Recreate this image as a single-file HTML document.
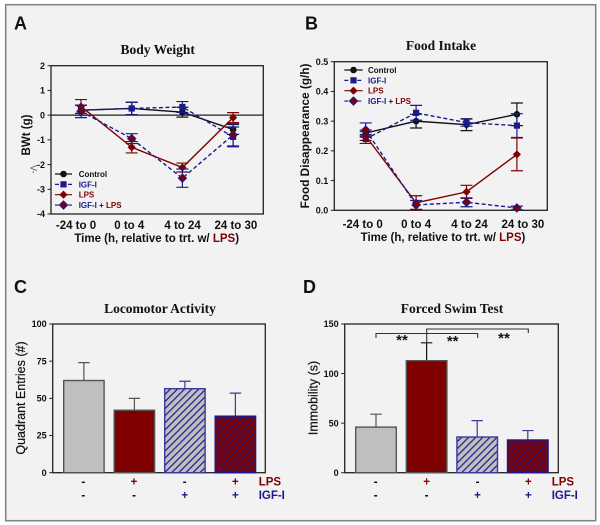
<!DOCTYPE html>
<html>
<head>
<meta charset="utf-8">
<style>
html,body{margin:0;padding:0;background:#fff;width:600px;height:525px;overflow:hidden}
svg{display:block}
text{font-family:"Liberation Sans",sans-serif}
.title{font-family:"Liberation Serif",serif;font-weight:bold;font-size:13.5px;text-anchor:middle;fill:#111}
.letter{font-weight:bold;font-size:18px;fill:#111}
.xlab{font-weight:bold;font-size:11.5px;text-anchor:middle;fill:#111}
.ylab{font-size:12.5px;text-anchor:middle;fill:#111;stroke:#111;stroke-width:.2}
.leg{font-weight:bold;font-size:8px;fill:#111}
.m{fill:#7f0000}.b{fill:#1a1a8c}
.star{font-weight:bold;font-size:15px;text-anchor:middle;fill:#111}
</style>
</head>
<body>
<svg id="fig" width="600" height="525" viewBox="0 0 600 525" xmlns="http://www.w3.org/2000/svg">
<defs>
<pattern id="hatchGray" width="5" height="5" patternUnits="userSpaceOnUse" patternTransform="rotate(45)">
<rect width="5" height="5" fill="#bfbfbf"/><rect width="1.2" height="5" fill="#1a1a8c"/>
</pattern>
<pattern id="hatchMaroon" width="5" height="5" patternUnits="userSpaceOnUse" patternTransform="rotate(45)">
<rect width="5" height="5" fill="#7f0000"/><rect width="1.2" height="5" fill="#1a1a8c"/>
</pattern>
</defs>
<rect x="5.7" y="4.7" width="590" height="516" fill="#f2f2f2" stroke="#808080" stroke-width="1.5"/>

<text class="letter" x="14" y="29.5">A</text>
<text class="letter" x="305" y="29.5">B</text>
<text class="letter" x="14" y="293">C</text>
<text class="letter" x="303" y="293">D</text>

<text class="title" x="157.7" y="54">Body Weight</text>
<text class="title" x="441" y="50">Food Intake</text>
<text class="title" x="160" y="313">Locomotor Activity</text>
<text class="title" x="452" y="313">Forced Swim Test</text>

<text class="xlab" x="156.7" y="242">Time (h, relative to trt. w/ <tspan class="m">LPS</tspan>)</text>
<text class="xlab" x="443" y="241">Time (h, relative to trt. w/ <tspan class="m">LPS</tspan>)</text>

<text class="ylab" transform="translate(30,135) rotate(-90)" style="font-weight:bold;font-size:11.5px;stroke:none">BWt (g)</text>
<text class="ylab" transform="translate(309,136) rotate(-90)" style="font-weight:bold;font-size:11.8px;stroke:none">Food Disappearance (g/h)</text>
<text class="ylab" transform="translate(25,398) rotate(-90)">Quadrant Entries (#)</text>
<text class="ylab" transform="translate(317.7,398) rotate(-90)">Immobility (s)</text>
<text transform="translate(30.5,165) rotate(90)" font-size="9" fill="#555">V-</text>

<g id="chartA"></g>
<g id="chartB"></g>
<g id="chartC"></g>
<g id="chartD"></g>

<g fill="none" stroke="#333" stroke-width="1.1">
<path d="M376 338V333.5H477.7V338"/>
<path d="M426.7 343V329H528.3V333"/>
</g>
<text class="star" x="402" y="345">**</text>
<text class="star" x="452.7" y="346">**</text>
<text class="star" x="504" y="343">**</text>
</svg>

<script>
const timeCategories = ['-24 to 0', '0 to 4', '4 to 24', '24 to 30'];

const weightTicks = [2, 1, 0, -1, -2, -3, -4];
const weightControl = [0.2, 0.27, 0.12, -0.58];
const weightControlErr = [0.2, 0.25, 0.2, 0.2];
const weightIgf = [0.2, 0.27, 0.33, -0.88];
const weightIgfErr = [0.2, 0.25, 0.22, 0.4];
const weightLps = [0.35, -1.3, -2.12, -0.1];
const weightLpsErr = [0.28, 0.23, 0.18, 0.2];
const weightBoth = [0.15, -0.95, -2.55, -0.8];
const weightBothErr = [0.25, 0.2, 0.37, 0.45];

const intakeTicks = [0, 0.1, 0.2, 0.3, 0.4, 0.5];
const intakeControl = [0.26, 0.3, 0.288, 0.323];
const intakeControlErr = [0.01, 0.023, 0.02, 0.038];
const intakeIgf = [0.24, 0.328, 0.295, 0.285];
const intakeIgfErr = [0.015, 0.025, 0.012, 0.04];
const intakeLps = [0.25, 0.025, 0.062, 0.188];
const intakeLpsErr = [0.015, 0.024, 0.022, 0.055];
const intakeBoth = [0.27, 0.018, 0.027, 0.008];
const intakeBothErr = [0.024, 0.015, 0.015, 0.006];

const legendLabels = ['Control', 'IGF-I', 'LPS', 'IGF-I + LPS'];

const locomotorTicks = [0, 25, 50, 75, 100];
const locomotorValues = [62, 42, 56.5, 38];
const locomotorErr = [12, 8, 5, 15.5];

const swimTicks = [0, 50, 100, 150];
const swimValues = [46, 113, 36, 33];
const swimErr = [13, 18, 16.5, 9.5];

const lpsRow = ['-', '+', '-', '+'];
const igfRow = ['-', '-', '+', '+'];

const NS = 'http://www.w3.org/2000/svg';
const MAROON = '#7f0000', BLUE = '#1a1a8c', BLACK = '#111111';

function mk(tag, attrs, parent) {
  const el = document.createElementNS(NS, tag);
  for (const k in attrs) el.setAttribute(k, attrs[k]);
  parent.appendChild(el);
  return el;
}
function linear(d0, d1, r0, r1) {
  return v => r0 + (v - d0) * (r1 - r0) / (d1 - d0);
}

function drawAxes(g, prefix, box, yScale, ticks, fmt) {
  const frame = mk('rect', {x: box.l, y: box.t, width: box.r - box.l, height: box.b - box.t, fill: 'none', stroke: '#222', 'stroke-width': 1.3}, g);
  
  
  ticks.forEach(t => {
    const y = yScale(t);
    const tick = mk('line', {x1: box.l - 3.5, x2: box.l, y1: y, y2: y, stroke: '#222', 'stroke-width': 1}, g);
    
    
    const lab = mk('text', {x: box.l - 6, y: y + 3.2, 'text-anchor': 'end', 'font-size': 9, 'font-weight': 'bold', fill: '#111'}, g);
    
    
    lab.textContent = fmt(t);
  });
}

function drawMarker(g, kind, x, y, fill, stroke) {
  let el;
  if (kind === 'circle') {
    el = mk('circle', {cx: x, cy: y, r: 3.3, fill: fill}, g);
  } else if (kind === 'square') {
    el = mk('rect', {x: x - 3.1, y: y - 3.1, width: 6.2, height: 6.2, fill: fill}, g);
  } else {
    el = mk('path', {d: `M${x} ${y - 4.1}L${x + 4.1} ${y}L${x} ${y + 4.1}L${x - 4.1} ${y}Z`, fill: fill}, g);
    if (stroke) { el.setAttribute('stroke', stroke); el.setAttribute('stroke-width', 1); }
  }
  return el;
}

function drawSeries(g, name, xScale, yScale, values, errs, color, dashed, kind, markerStroke, markerFill) {
  const s = mk('g', {}, g);
  
  
  values.forEach((v, i) => {
    const x = xScale(i);
    const hi = yScale(v + errs[i]), lo = yScale(v - errs[i]);
    const e = mk('path', {d: `M${x} ${lo}V${hi}M${x - 6} ${hi}H${x + 6}M${x - 6} ${lo}H${x + 6}`, fill: 'none', stroke: color, 'stroke-width': 1.2}, s);
    
    
  });
  const d = values.map((v, i) => (i ? 'L' : 'M') + xScale(i) + ' ' + yScale(v)).join('');
  const line = mk('path', {d: d, fill: 'none', stroke: color, 'stroke-width': 1.4}, s);
  if (dashed) line.setAttribute('stroke-dasharray', '4 2.5');
  
  
  values.forEach((v, i) => {
    const p = drawMarker(s, kind, xScale(i), yScale(v), markerFill, markerStroke);
    
    
  });
}

function drawLegend(g, prefix, x0, x1, tx, ys) {
  const styles = [
    {c: BLACK, dash: false, kind: 'circle', fill: BLACK, stroke: null},
    {c: BLUE, dash: true, kind: 'square', fill: BLUE, stroke: null},
    {c: MAROON, dash: false, kind: 'diamond', fill: MAROON, stroke: null},
    {c: BLUE, dash: true, kind: 'diamond', fill: MAROON, stroke: BLUE}
  ];
  legendLabels.forEach((label, i) => {
    const y = ys(i), st = styles[i];
    const entry = mk('g', {}, g);
    
    
    const l = mk('line', {x1: x0, x2: x1, y1: y, y2: y, stroke: st.c, 'stroke-width': 1.2}, entry);
    if (st.dash) l.setAttribute('stroke-dasharray', '4 2.5');
    drawMarker(entry, st.kind, (x0 + x1) / 2, y, st.fill, st.stroke);
    const t = mk('text', {x: tx, y: y + 3, 'class': 'leg'}, entry);
    if (i === 0) {
      t.textContent = label;
    } else if (i === 1) {
      t.setAttribute('class', 'leg b');
      t.textContent = label;
    } else if (i === 2) {
      t.setAttribute('class', 'leg m');
      t.textContent = label;
    } else {
      const parts = label.split(' + ');
      const a = mk('tspan', {'class': 'b'}, t);
      a.textContent = parts[0];
      const p = mk('tspan', {}, t);
      p.textContent = ' + ';
      const b = mk('tspan', {'class': 'm'}, t);
      b.textContent = parts[1];
    }
  });
}

function drawCategoryLabels(g, prefix, labelX, y) {
  timeCategories.forEach((c, i) => {
    const t = mk('text', {x: labelX(i), y: y, 'text-anchor': 'middle', 'font-size': 11.5, 'font-weight': 'bold', fill: '#111'}, g);
    
    
    t.textContent = c;
  });
}

function drawBars(g, prefix, box, yScale, xLeft, barW, values, errs, ticks) {
  const fills = ['#bfbfbf', MAROON, 'url(#hatchGray)', 'url(#hatchMaroon)'];
  const strokes = ['#555555', '#555555', '#3a3aa0', BLUE];
  const errColors = ['#555555', prefix === 'swim' ? '#111111' : '#555555', '#3a3aa0', '#3a3aa0'];
  drawAxes(g, prefix, box, yScale, ticks, t => String(t));
  values.forEach((v, i) => {
    const x = xLeft(i), cx = x + barW / 2;
    const top = yScale(v), hi = yScale(v + errs[i]);
    const e = mk('path', {d: `M${cx} ${top}V${hi}M${cx - 5.7} ${hi}H${cx + 5.7}`, fill: 'none', stroke: errColors[i], 'stroke-width': 1.2}, g);
    
    
    const b = mk('rect', {x: x, y: top, width: barW, height: yScale(0) - top, fill: fills[i], stroke: strokes[i], 'stroke-width': 1.4}, g);
    
    
  });
}

function drawSigns(g, prefix, signX, rowY, labelXPos) {
  [lpsRow, igfRow].forEach((row, r) => {
    const cls = r === 0 ? 'm' : 'b';
    row.forEach((s, i) => {
      const t = mk('text', {x: signX(i), y: rowY(r), 'text-anchor': 'middle', 'font-size': 11.5, 'font-weight': 'bold', 'class': s === '+' ? cls : ''}, g);
      
      
      t.textContent = s;
    });
    const lab = mk('text', {x: labelXPos, y: rowY(r), 'font-size': 11.5, 'font-weight': 'bold', 'class': cls}, g);
    
    
    lab.textContent = r === 0 ? 'LPS' : 'IGF-I';
  });
}

/* Panel A */
(function () {
  const g = document.getElementById('chartA');
  const box = {l: 51, r: 263.3, t: 65.7, b: 214};
  const y = linear(-4, 2, box.b, box.t);
  const x = i => 81 + i * 50.7;
  drawAxes(g, 'body-weight', box, y, weightTicks, t => String(t));
  const zero = mk('line', {x1: box.l, x2: box.r, y1: y(0), y2: y(0), stroke: '#222', 'stroke-width': 1.2}, g);
  
  
  drawSeries(g, 'control', x, y, weightControl, weightControlErr, BLACK, false, 'circle', null, BLACK);
  drawSeries(g, 'igf', x, y, weightIgf, weightIgfErr, BLUE, true, 'square', null, BLUE);
  drawSeries(g, 'lps', x, y, weightLps, weightLpsErr, MAROON, false, 'diamond', null, MAROON);
  drawSeries(g, 'igf-lps', x, y, weightBoth, weightBothErr, BLUE, true, 'diamond', BLUE, MAROON);
  drawLegend(g, 'body-weight', 55, 72, 78.7, i => 174 + i * 10.35);
  drawCategoryLabels(g, 'body-weight', i => 76 + i * 53.3, 229);
})();

/* Panel B */
(function () {
  const g = document.getElementById('chartB');
  const box = {l: 334.3, r: 547.3, t: 61.7, b: 210.3};
  const y = linear(0, 0.5, box.b, box.t);
  const x = i => 365.7 + i * 50.4;
  drawAxes(g, 'food-intake', box, y, intakeTicks, t => t.toFixed(1));
  drawSeries(g, 'control', x, y, intakeControl, intakeControlErr, BLACK, false, 'circle', null, BLACK);
  drawSeries(g, 'igf', x, y, intakeIgf, intakeIgfErr, BLUE, true, 'square', null, BLUE);
  drawSeries(g, 'lps', x, y, intakeLps, intakeLpsErr, MAROON, false, 'diamond', null, MAROON);
  drawSeries(g, 'igf-lps', x, y, intakeBoth, intakeBothErr, BLUE, true, 'diamond', BLUE, MAROON);
  drawLegend(g, 'food-intake', 344.3, 362.7, 368, i => 70 + i * 10.35);
  drawCategoryLabels(g, 'food-intake', i => 362.7 + i * 53.4, 228);
})();

/* Panel C */
(function () {
  const g = document.getElementById('chartC');
  const box = {l: 52.7, r: 265.3, t: 324, b: 472.7};
  const y = linear(0, 100, box.b, box.t);
  drawBars(g, 'locomotor', box, y, i => 63.7 + i * 50.5, 40.4, locomotorValues, locomotorErr, locomotorTicks);
  drawSigns(g, 'locomotor', i => 83.3 + i * 50.7, r => 485.5 + r * 13.5, 258.7);
})();

/* Panel D */
(function () {
  const g = document.getElementById('chartD');
  const box = {l: 344.7, r: 558.3, t: 324, b: 472.7};
  const y = linear(0, 150, box.b, box.t);
  drawBars(g, 'swim', box, y, i => 355.7 + i * 50.6, 40.6, swimValues, swimErr, swimTicks);
  drawSigns(g, 'swim', i => 375.7 + i * 50.9, r => 485.5 + r * 13.5, 551.7);
})();
</script>
</body>
</html>
